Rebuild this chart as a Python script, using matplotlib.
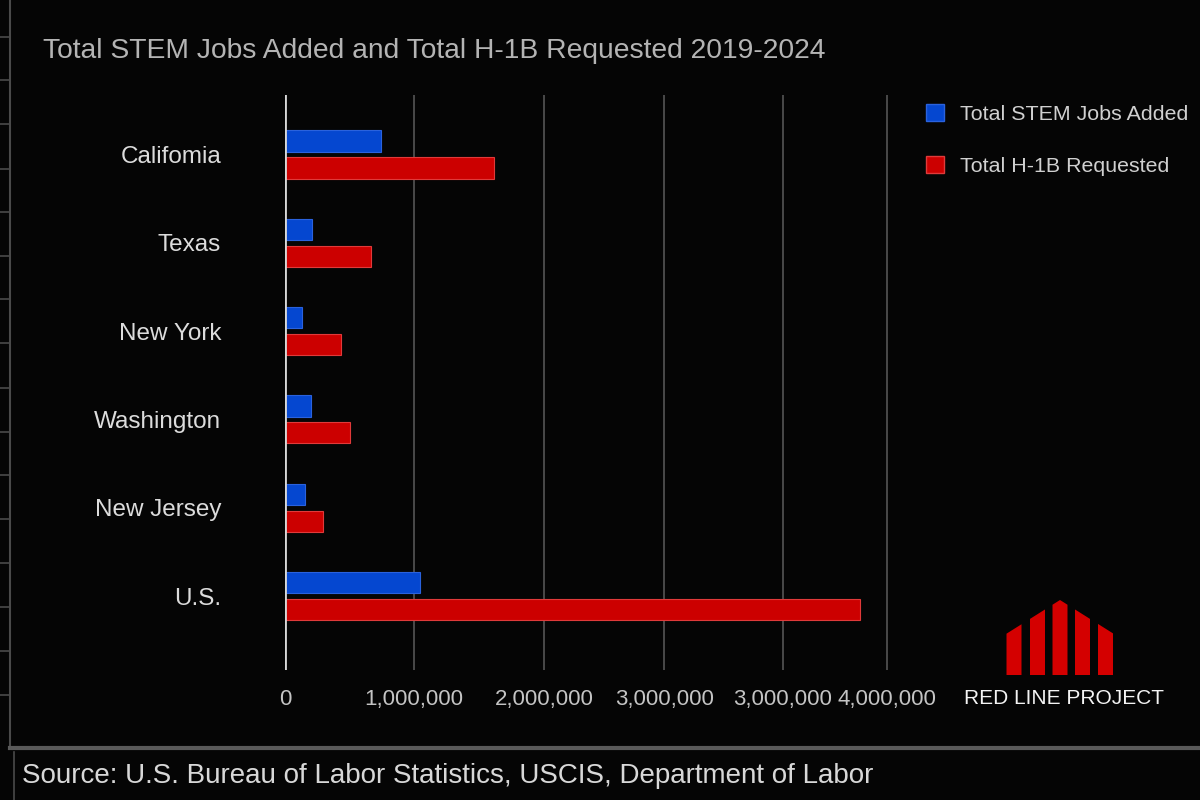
import matplotlib
matplotlib.use("Agg")
import matplotlib.pyplot as plt
from matplotlib.lines import Line2D
from matplotlib.patches import Polygon, Patch

plt.rcParams['font.family'] = ['Liberation Sans', 'DejaVu Sans']

# ---- data ----
states = ["Califomia", "Texas", "New York", "Washington", "New Jersey", "U.S."]
stem_jobs = [742000, 212000, 134000, 204000, 153000, 1047000]
h1b_requested = [1620000, 664000, 432000, 502000, 295000, 4460000]
series_names = ["Total STEM Jobs Added", "Total H-1B Requested"]
x_tick_values = [0, 1000000, 2010000, 2940000, 3860000, 4670000]
x_tick_labels = ["0", "1,000,000", "2,000,000", "3,000,000", "3,000,000", "4,000,000"]
title = "Total STEM Jobs Added and Total H-1B Requested 2019-2024"
source = "Source: U.S. Bureau of Labor Statistics, USCIS, Department of Labor"
logo_text = "RED LINE PROJECT"

BG = "#050505"
BLUE = "#0547d0"
RED = "#cc0000"

W, H = 1200, 800
fig = plt.figure(figsize=(12, 8), dpi=100, facecolor=BG)

def fx(px):
    return px / W

def fy(py):
    return 1 - py / H

ax = fig.add_axes([fx(285), fy(670), fx(900) - fx(285), (670 - 95) / H])
ax.set_facecolor(BG)

pos = list(range(len(states)))
bh = 0.24
off = 0.152
ax.barh([p - off for p in pos], stem_jobs, height=bh, color=BLUE,
        edgecolor="#2a62dd", linewidth=0.8, zorder=3, label=series_names[0])
ax.barh([p + off for p in pos], h1b_requested, height=bh, color=RED,
        edgecolor="#e03a3a", linewidth=0.8, zorder=3, label=series_names[1])

ax.set_xlim(0, 615 / 129 * 1e6)
ax.set_ylim(5.838, -0.674)

ax.set_xticks(x_tick_values)
ax.set_xticklabels(x_tick_labels, fontsize=16, color="#c4c4c4")
ax.set_yticks(pos)
ax.set_yticklabels(states, fontsize=17.5, color="#dcdcdc")
ax.tick_params(axis="x", length=0, pad=14)
ax.tick_params(axis="y", length=0, pad=46)

for v in x_tick_values[1:]:
    ax.axvline(v, color="#5c5c5c", linewidth=1.1, zorder=1)
ax.axvline(0, color="#d8d8d8", linewidth=2, zorder=4)
for s in ax.spines.values():
    s.set_visible(False)

# title
fig.text(fx(43), fy(51), title, fontsize=20.3, color="#b4b4b4", ha="left", va="center")

# legend
handles = [Patch(facecolor=BLUE, edgecolor="#2a62dd"), Patch(facecolor=RED, edgecolor="#e03a3a")]
fig.legend(handles, series_names, loc="upper left", bbox_to_anchor=(fx(926), fy(104)),
           frameon=False, fontsize=15.4, labelcolor="#d0d0d0", handlelength=0.85,
           handleheight=0.85, handletextpad=0.75, labelspacing=1.5, borderpad=0,
           borderaxespad=0)

# frame decorations
grey = "#4a4a4a"
fig.add_artist(Line2D([fx(10), fx(10)], [fy(0), fy(748)], color=grey, linewidth=1.5))
for ty in [37, 80, 124, 169, 212, 256, 299, 343, 388, 432, 475, 519, 563, 607, 651, 695]:
    fig.add_artist(Line2D([fx(0), fx(10)], [fy(ty), fy(ty)], color=grey, linewidth=1.2))
fig.add_artist(Line2D([fx(10), fx(1200)], [fy(748), fy(748)], color="#5a5a5a", linewidth=3))
fig.add_artist(Line2D([fx(14), fx(14)], [fy(752), fy(800)], color=grey, linewidth=1.2))

# source
fig.text(fx(22), fy(776), source, fontsize=20, color="#d8d8d8", ha="left", va="center")

# logo
roof_l, roof_peak, roof_r = (1006, 634), (1060, 600), (1114, 634)

def roof_y(x):
    if x <= roof_peak[0]:
        return roof_l[1] + (roof_peak[1] - roof_l[1]) * (x - roof_l[0]) / (roof_peak[0] - roof_l[0])
    return roof_peak[1] + (roof_r[1] - roof_peak[1]) * (x - roof_peak[0]) / (roof_r[0] - roof_peak[0])

for x0 in [1006.5, 1030, 1052.5, 1075, 1098]:
    x1 = x0 + 15
    if x0 < roof_peak[0] < x1:
        pts = [(x0, 675), (x1, 675), (x1, roof_y(x1)), (roof_peak[0], roof_peak[1]), (x0, roof_y(x0))]
    else:
        pts = [(x0, 675), (x1, 675), (x1, roof_y(x1)), (x0, roof_y(x0))]
    poly = Polygon([(fx(a), fy(b)) for a, b in pts], closed=True, facecolor="#d40000",
                   edgecolor="none", transform=fig.transFigure)
    fig.add_artist(poly)
fig.text(fx(1064), fy(698), logo_text, fontsize=15, color="#f4f4f4", ha="center", va="center")

fig.savefig("out.png", dpi=100, facecolor=BG)
